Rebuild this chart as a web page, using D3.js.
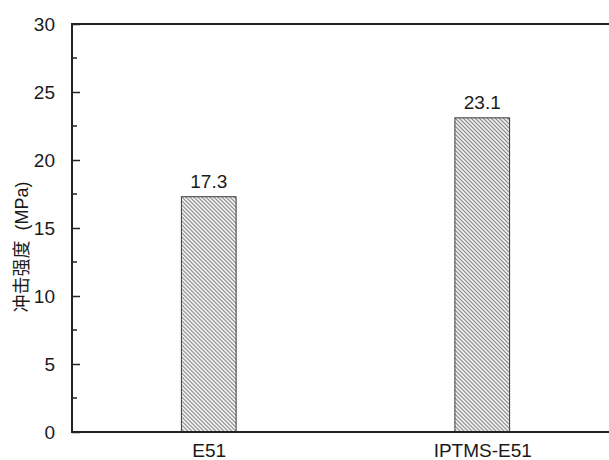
<!DOCTYPE html>
<html>
<head>
<meta charset="utf-8">
<script src="https://cdn.jsdelivr.net/npm/d3@7"></script>
<style>
  html, body { margin: 0; padding: 0; background: #fff; }
  svg { display: block; }
  text { font-family: "Liberation Sans", Arial, sans-serif; fill: #1a1a1a; }
</style>
</head>
<body>
<svg id="chart" width="609" height="460"></svg>
<script>
const categories = ["E51", "IPTMS-E51"];
const values = [17.3, 23.1];
const valueLabels = ["17.3", "23.1"];
const yTicks = [0, 5, 10, 15, 20, 25, 30];
const yMinorTicks = [2.5, 7.5, 12.5, 17.5, 22.5, 27.5];
const yTitle = "冲击强度  (MPa)";

const svg = d3.select("#chart");
const W = 609, H = 460;
const m = { left: 72, top: 24, bottom: 28 };
const plotRight = 619; // axis extends beyond the visible window
const y = d3.scaleLinear().domain([0, 30]).range([H - m.bottom, m.top]);
const x = d3.scalePoint().domain(categories).range([m.left, plotRight]).padding(0.5);
const barW = x.step() * 0.2;

const defs = svg.append("defs");
const pat = defs.append("pattern")
  .attr("id", "hatch")
  .attr("patternUnits", "userSpaceOnUse")
  .attr("width", 2.83).attr("height", 2.83)
  .attr("patternTransform", "rotate(-45)");
pat.append("rect").attr("width", 2.83).attr("height", 2.83).attr("fill", "#fff");
pat.append("line").attr("x1", 0.7).attr("y1", 0).attr("x2", 0.7).attr("y2", 2.83)
  .attr("stroke", "#555").attr("stroke-width", 0.9);

// bars
svg.append("g").selectAll("rect").data(values).join("rect")
  .attr("x", (d, i) => x(categories[i]) - barW / 2)
  .attr("y", d => y(d))
  .attr("width", barW)
  .attr("height", d => y(0) - y(d))
  .attr("fill", "url(#hatch)")
  .attr("stroke", "#3a3a3a")
  .attr("stroke-width", 1);

// value labels
svg.append("g").selectAll("text").data(values).join("text")
  .attr("x", (d, i) => x(categories[i]))
  .attr("y", d => y(d) - 9)
  .attr("text-anchor", "middle")
  .style("font-size", "19px")
  .text((d, i) => valueLabels[i]);

// y axis (ticks inward)
const yAxis = d3.axisLeft(y).tickValues(yTicks).tickSize(-8).tickPadding(17)
  .tickFormat(d3.format("d"));
const gy = svg.append("g").attr("transform", `translate(${m.left},0)`).call(yAxis);
gy.select(".domain").remove();
gy.selectAll(".tick line").attr("stroke", "#222").attr("stroke-width", 1.5);
gy.selectAll(".tick text").style("font-size", "19px").attr("fill", "#1a1a1a")
  .attr("font-family", "Liberation Sans, Arial, sans-serif");
svg.append("g").selectAll("line").data(yMinorTicks).join("line")
  .attr("x1", m.left).attr("x2", m.left + 5)
  .attr("y1", d => y(d)).attr("y2", d => y(d))
  .attr("stroke", "#222").attr("stroke-width", 1.5);

// x axis labels
const xAxis = d3.axisBottom(x).tickSize(0).tickPadding(12);
const gx = svg.append("g").attr("transform", `translate(0,${y(0)})`).call(xAxis);
gx.select(".domain").remove();
gx.selectAll(".tick text").style("font-size", "19px").attr("fill", "#1a1a1a")
  .attr("font-family", "Liberation Sans, Arial, sans-serif");

// frame lines
const frame = svg.append("g").attr("stroke", "#222").attr("stroke-width", 2).attr("fill", "none");
frame.append("line").attr("x1", m.left).attr("x2", plotRight).attr("y1", y(0)).attr("y2", y(0));
frame.append("line").attr("x1", m.left).attr("x2", plotRight).attr("y1", y(30)).attr("y2", y(30));
frame.append("line").attr("x1", m.left).attr("x2", m.left).attr("y1", y(0) + 1).attr("y2", y(30) - 1);

// y title
svg.append("text")
  .attr("transform", `translate(28,${(y(0) + y(30)) / 2 + 19}) rotate(-90)`)
  .attr("text-anchor", "middle")
  .attr("xml:space", "preserve")
  .style("white-space", "pre")
  .style("font-size", "18px")
  .style("font-family", "'Liberation Sans', 'Noto Sans CJK SC', sans-serif")
  .text(yTitle);
</script>
</body>
</html>
